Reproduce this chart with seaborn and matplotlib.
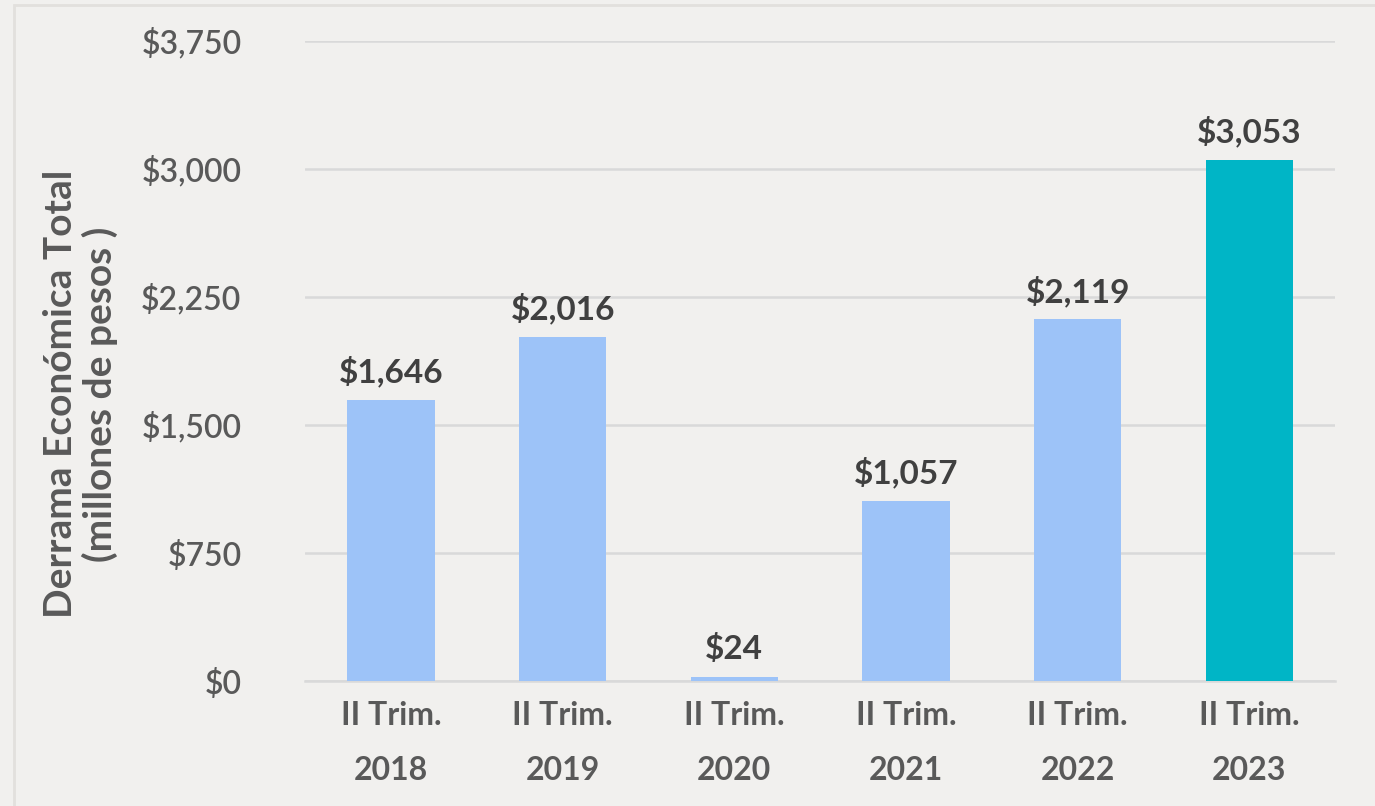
import matplotlib
matplotlib.use("Agg")
import matplotlib.pyplot as plt
import seaborn as sns
import pandas as pd
from matplotlib.patches import Rectangle

categories = ["II Trim.\n2018", "II Trim.\n2019", "II Trim.\n2020", "II Trim.\n2021", "II Trim.\n2022", "II Trim.\n2023"]
values = [1646, 2016, 24, 1057, 2119, 3053]
bar_colors = ["#9DC3F8", "#9DC3F8", "#9DC3F8", "#9DC3F8", "#9DC3F8", "#00B5C6"]
y_ticks = [0, 750, 1500, 2250, 3000, 3750]
y_label = "Derrama Económica Total\n(millones de pesos )"

sns.set_theme(style="white")
plt.rcParams['font.family'] = ['Lato', 'DejaVu Sans']

bg = "#F1F0EE"
fig = plt.figure(figsize=(13.75, 8.06), dpi=100, facecolor=bg)
ax = fig.add_axes([0.222, 0.155, 0.749, 0.794])
ax.set_facecolor("none")

# faint decorative frame
fig.patches.append(Rectangle((14/1375, -0.1), 1.2, (806-5)/806 + 0.1, transform=fig.transFigure,
                             fill=False, edgecolor="#E2E0DD", linewidth=2, zorder=0))

df = pd.DataFrame({"cat": categories, "val": values})
sns.barplot(data=df, x="cat", y="val", hue="cat", palette=bar_colors, legend=False,
            width=0.51, ax=ax, saturation=1, zorder=3, linewidth=0)

ax.set_xlim(-0.5, len(categories) - 0.5)
ax.set_ylim(0, 3750)
ax.set_yticks(y_ticks)
ax.set_yticklabels([f"${v:,}" for v in y_ticks])
ax.yaxis.grid(True, color="#D9D9D9", linewidth=1.8, zorder=0)
ax.set_axisbelow(True)
for s in ["top", "right", "left"]:
    ax.spines[s].set_visible(False)
ax.spines["bottom"].set_color("#D9D9D9")
ax.spines["bottom"].set_linewidth(1.8)

ax.tick_params(axis="y", length=0, pad=46, labelsize=23, labelcolor="#595959")
ax.tick_params(axis="x", length=0, pad=14, labelsize=23, labelcolor="#595959")
for lbl in ax.get_yticklabels():
    lbl.set_fontweight("semibold")
for lbl in ax.get_xticklabels():
    lbl.set_linespacing(2.1)
    lbl.set_fontweight("bold")

ax.set_xlabel("")
ylab = ax.set_ylabel(y_label, fontsize=28, color="#595959", fontweight="bold", linespacing=1.12)
ylab.set_va("center")
ylab.set_ha("center")
ax.yaxis.set_label_coords((80 - 305) / 1030, (681 - 394) / 640)

for cont in ax.containers:
    ax.bar_label(cont, labels=[f"${v:,.0f}" for v in cont.datavalues], padding=9,
                 fontsize=24, fontweight="bold", color="#404040")

fig.savefig("out.png", dpi=100, facecolor=bg)
